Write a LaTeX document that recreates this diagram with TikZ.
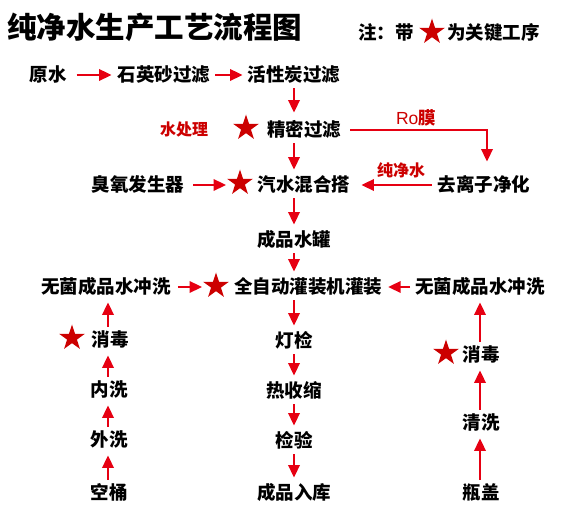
\documentclass[tikz,border=0pt]{standalone}
\usepackage{fontspec}
\newfontfamily\cjk{Noto Sans CJK SC}
\newfontfamily\lib{Liberation Sans}
\usetikzlibrary{arrows.meta,shapes.geometric}
\definecolor{arrred}{RGB}{230,0,18}
\definecolor{starred}{RGB}{204,0,0}
\tikzset{
 txt/.style={font=\cjk\bfseries\fontsize{18.5}{18.5}\selectfont, inner sep=0pt, text height=16pt, text depth=2.5pt},
 lab/.style={font=\cjk\bfseries\fontsize{16}{16}\selectfont, text=starred, inner sep=0pt},
 keystar/.style={star, star points=5, star point ratio=2.618, fill=starred, inner sep=0pt, minimum size=27pt},
 flow/.style={draw=arrred, line width=2pt, -{Triangle[length=12.5pt,width=11.5pt]}},
 vflow/.style={flow, shorten <=4pt, shorten >=6pt},
}
\begin{document}
\begin{tikzpicture}[x=1pt,y=-1pt]
\useasboundingbox (0,0) rectangle (568,518);
% title and legend
\node[anchor=west, inner sep=0pt, font=\cjk\bfseries\fontsize{29.5}{29.5}\selectfont] (title) at (7,27) {纯净水生产工艺流程图};
\node[txt, anchor=west] (note) at (358,33) {注：带};
\node[keystar] (legstar) at (432,32) {};
\node[txt, anchor=west] (notekey) at (447,33) {为关键工序};
% row 1
\node[txt] (yuanshui) at (48,75) {原水};
\node[txt] (shiying) at (164,75) {石英砂过滤};
\node[txt] (huoxing) at (294,75) {活性炭过滤};
% row 2
\node[lab] (shuichuli) at (184,129) {水处理};
\node[keystar] (star1) at (246,128) {};
\node[txt] (jingmi) at (304,130) {精密过滤};
\node[lab, font=\cjk\bfseries\fontsize{17.5}{17.5}\selectfont] (ro) at (416,118) {{\lib\mdseries Ro}膜};
% row 3
\node[txt] (ozone) at (138,185) {臭氧发生器};
\node[keystar] (star2) at (240,183) {};
\node[txt] (qishui) at (304,185) {汽水混合搭};
\node[lab] (chunjing) at (401,170) {纯净水};
\node[txt] (quli) at (484,185) {去离子净化};
% row 4
\node[txt] (guan) at (294,240) {成品水罐};
% row 5
\node[txt] (wl) at (106,287) {无菌成品水冲洗};
\node[keystar] (star3) at (216,286) {};
\node[txt] (gz) at (308,287) {全自动灌装机灌装};
\node[txt] (wr) at (480,287) {无菌成品水冲洗};
% left column
\node[keystar] (star4) at (72,338) {};
\node[txt] (xd1) at (110,340) {消毒};
\node[txt] (neixi) at (109,390) {内洗};
\node[txt] (waixi) at (109,440) {外洗};
\node[txt] (kongtong) at (109,493) {空桶};
% middle column
\node[txt] (dengjian) at (294,341) {灯检};
\node[txt] (rsk) at (294,391) {热收缩};
\node[txt] (jianyan) at (294,441) {检验};
\node[txt] (ruku) at (294,493) {成品入库};
% right column
\node[keystar] (star5) at (446,353) {};
\node[txt] (xd2) at (481,355) {消毒};
\node[txt] (qingxi) at (481,423) {清洗};
\node[txt] (pinggai) at (481,493) {瓶盖};
% connectors
\draw[flow, shorten <=10pt, shorten >=6pt] (yuanshui.east) -- (shiying.west);
\draw[flow, shorten <=5pt, shorten >=5pt] (shiying.east) -- (huoxing.west);
\draw[vflow, shorten >=8pt] (huoxing.south) -- (huoxing.south |- jingmi.north);
\draw[vflow] (huoxing.south |- jingmi.south) -- (huoxing.south |- qishui.north);
\draw[flow, shorten <=9pt, shorten >=14pt] (jingmi.east) -| ([xshift=3pt]quli.north);
\draw[flow, shorten <=9pt, shorten >=0.5pt] (ozone.east) -- (ozone.east -| star2.162);
\draw[flow, shorten <=6pt, shorten >=11pt] (quli.west) -- (qishui.east);
\draw[vflow] (huoxing.south |- qishui.south) -- (guan.north);
\draw[vflow] (guan.south) -- (guan.south |- gz.north);
\draw[flow, shorten <=7pt, shorten >=0.5pt] (wl.east) -- (wl.east -| star3.162);
\draw[flow, shorten <=5pt, shorten >=6pt] (wr.west) -- (gz.east);
\draw[vflow] (guan.south |- gz.south) -- (dengjian.north);
\draw[vflow] (dengjian.south) -- (rsk.north);
\draw[vflow] (rsk.south) -- (jianyan.north);
\draw[vflow] (jianyan.south) -- (ruku.north);
\draw[vflow] ([xshift=-1pt]kongtong.north) -- ([xshift=-1pt]waixi.south);
\draw[vflow] ([xshift=-1pt]waixi.north) -- ([xshift=-1pt]neixi.south);
\draw[vflow] ([xshift=-1pt]neixi.north) -- ([xshift=-2pt]xd1.south);
\draw[vflow] ([xshift=-2pt]xd1.north) -- ([xshift=-2pt]xd1.north |- wl.south);
\draw[vflow] ([xshift=-1pt]pinggai.north) -- ([xshift=-1pt]qingxi.south);
\draw[vflow] ([xshift=-1pt]qingxi.north) -- ([xshift=-1pt]xd2.south);
\draw[vflow] ([xshift=-1pt]xd2.north) -- ([xshift=-1pt]xd2.north |- wr.south);
\end{tikzpicture}
\end{document}
